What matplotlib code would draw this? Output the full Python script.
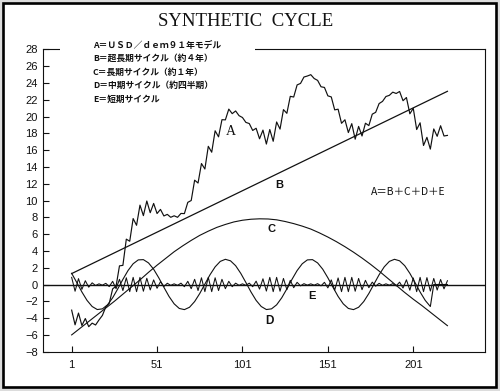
import numpy as np
from matplotlib import pyplot as plt
from matplotlib.patches import Rectangle

# time index of each series
x_a = np.arange(1, 222, 2)
x_b = [1, 221]
x_c = np.arange(1, 222, 5)
x_d = list(range(1, 212, 3)) + [213, 221]
x_e = np.arange(1, 222, 2)

# A = USD/dem model
a_vals = [-3.05, -4.8, -3.4, -4.88, -4.05, -5.02, -4.6, -4.82, -4.22, -3.68,
          -2.66, -2.25, -0.52, -0.2, 2.22, 2.28, 5.4, 5.15, 7.85, 7.05,
          9.45, 8.2, 9.94, 8.55, 9.65, 8.45, 8.94, 8.16, 8.35, 8.0,
          8.18, 8.0, 8.46, 8.44, 9.78, 10.0, 12.42, 12.08, 14.4, 13.75,
          16.45, 15.75, 18.3, 17.58, 19.62, 19.6, 20.88, 20.34, 20.66, 20.1,
          19.88, 19.3, 19.16, 18.34, 18.6, 17.35, 18.38, 16.72, 18.45, 17.05,
          19.35, 18.5, 20.82, 20.38, 22.4, 22.32, 23.76, 23.94, 24.7, 24.82,
          24.98, 24.52, 24.3, 23.54, 23.46, 22.46, 22.33, 20.79, 20.87, 19.19,
          19.61, 18.09, 19.15, 17.3, 18.82, 17.68, 19.2, 18.92, 20.28, 20.5,
          21.54, 21.8, 22.38, 22.52, 22.9, 22.74, 22.98, 21.88, 22.26, 20.32,
          20.98, 18.45, 19.25, 16.55, 17.52, 16.12, 18.52, 17.64, 18.9, 17.68,
          17.75]

# B = very long trend
b_vals = [1.3, 23.0]

# C = long cycle
c_vals = [-6.0, -5.2, -4.4, -3.6, -2.8, -2.0, -1.15, -0.3, 0.55, 1.45,
          2.3, 3.1, 3.9, 4.6, 5.25, 5.85, 6.35, 6.8, 7.15, 7.45,
          7.65, 7.77, 7.82, 7.8, 7.7, 7.5, 7.25, 6.95, 6.6, 6.15,
          5.65, 5.1, 4.5, 3.85, 3.15, 2.4, 1.6, 0.75, -0.1, -0.95,
          -1.75, -2.5, -3.3, -4.1, -4.9]

# D = medium cycle (quarter)
d_vals = [1.33, 0.24, -0.89, -1.89, -2.62, -2.98, -2.9, -2.42, -1.58, -0.52,
          0.61, 1.66, 2.47, 2.93, 2.96, 2.57, 1.82, 0.8, -0.33, -1.42,
          -2.3, -2.85, -2.99, -2.71, -2.03, -1.07, 0.05, 1.16, 2.1, 2.75,
          3.0, 2.82, 2.24,
          1.33, 0.24, -0.89, -1.89, -2.62, -2.98, -2.9, -2.42, -1.58, -0.52,
          0.61, 1.66, 2.47, 2.93, 2.96, 2.57, 1.82, 0.8, -0.33, -1.42,
          -2.3, -2.85, -2.99, -2.71, -2.03, -1.07, 0.05, 1.16, 2.1, 2.75,
          3.0, 2.82, 2.24,
          1.33, 0.24, -0.89, -1.89, -2.62, 0.0, 0.0]

# E = short cycle
e_vals = [0.85, -0.8, 0.7, -0.58, 0.45, -0.32, 0.2, -0.12, 0.08, -0.08,
          0.14, -0.25, 0.38, -0.5, 0.62, -0.72, 0.8, -0.85, 0.85, -0.85,
          0.85, -0.8, 0.74, -0.65, 0.55, -0.45, 0.34, -0.24, 0.15, -0.1,
          0.08, -0.1, 0.16, -0.26, 0.38, -0.5, 0.62, -0.72, 0.8, -0.85,
          0.85, -0.85, 0.8, -0.72, 0.62, -0.5, 0.38, -0.26, 0.16, -0.1,
          0.08, -0.1, 0.16, -0.26, 0.4, -0.55, 0.68, -0.78, 0.85, -0.85,
          0.85, -0.8, 0.72, -0.62, 0.5, -0.38, 0.26, -0.16, 0.1, -0.08,
          0.08, -0.08, 0.1, -0.16, 0.26, -0.4, 0.55, -0.68, 0.78, -0.85,
          0.85, -0.85, 0.85, -0.8, 0.72, -0.62, 0.5, -0.38, 0.28, -0.2,
          0.14, -0.1, 0.08, -0.08, 0.1, -0.16, 0.28, -0.42, 0.56, -0.68,
          0.78, -0.85, 0.85, -0.85, 0.82, -0.78, 0.72, -0.66, 0.6, -0.52,
          0.45]

x_ticks = [1, 51, 101, 151, 201]
x_ticklabels = ['1', '51', '101', '151', '201']
y_ticks = list(range(-8, 29, 2))

legend_lines = ['A＝ＵＳＤ／ｄｅｍ９１年モデル',
                'B＝超長期サイクル（約４年）',
                'C＝長期サイクル（約１年）',
                'D＝中期サイクル（約四半期）',
                'E＝短期サイクル']

jp = ['Noto Sans CJK JP', 'DejaVu Sans']
ink = '#111111'

fig = plt.figure(figsize=(5.0, 3.91), dpi=100, facecolor='#dcdcdc')
# white sheet with black frame
fig.patches.append(Rectangle((0.0054, 0.0115), 0.9856, 0.9815, transform=fig.transFigure,
                             facecolor='white', edgecolor='black', linewidth=1.9, zorder=-1))

ax = fig.add_axes([0.0866, 0.1005, 0.8834, 0.7734])
ax.set_facecolor('none')

ax.axhline(0, color=ink, lw=1.0)
ax.plot(x_e, e_vals, color=ink, lw=0.75)
ax.plot(x_d, d_vals, color=ink, lw=0.8)
ax.plot(x_c, c_vals, color=ink, lw=0.8)
ax.plot(x_b, b_vals, color=ink, lw=0.9)
ax.plot(x_a, a_vals, color=ink, lw=0.85)

ax.set_xlim(-15.6, 243)
ax.set_ylim(-8, 28)
ax.set_xticks(x_ticks)
ax.set_xticklabels(x_ticklabels)
ax.set_yticks(y_ticks)
ax.tick_params(direction='in', length=4.5, width=0.8, labelsize=8, colors=ink)
ax.tick_params(axis='x', pad=6)
ax.tick_params(axis='y', pad=4)
for lab in ax.get_xticklabels() + ax.get_yticklabels():
    lab.set_fontfamily('Liberation Sans')
for s in ax.spines.values():
    s.set_linewidth(0.8)
    s.set_color(ink)

# legend block hides part of the top frame line
ax.add_patch(Rectangle((0.038, 0.985), 0.441, 0.03, transform=ax.transAxes,
                       facecolor='white', edgecolor='none', clip_on=False, zorder=3))
for i, line in enumerate(legend_lines):
    ax.text(0.1125, 1.014 - i * 0.0445, line, transform=ax.transAxes, family=jp,
            fontsize=6.3, fontweight='bold', va='center', ha='left', color=ink, zorder=4)

# curve labels
ax.text(94, 18.2, 'A', family='Liberation Serif', fontsize=10, ha='center', va='center', color=ink)
ax.text(122.5, 11.8, 'B', family='Liberation Sans', fontsize=8, fontweight='bold', ha='center', va='center', color=ink)
ax.text(118, 6.6, 'C', family='Liberation Sans', fontsize=8, fontweight='bold', ha='center', va='center', color=ink)
ax.text(117, -4.4, 'D', family='Liberation Sans', fontsize=8.5, fontweight='bold', ha='center', va='center', color=ink)
ax.text(141.5, -1.4, 'E', family='Liberation Sans', fontsize=8, fontweight='bold', ha='center', va='center', color=ink)
ax.text(198, 11.0, 'A＝B＋C＋D＋E', family=jp, fontsize=7.5, ha='center', va='center', color=ink)

fig.text(0.492, 0.944, 'SYNTHETIC  CYCLE', family='Liberation Serif', fontsize=13.5,
         ha='center', va='center', color=ink)

fig.savefig('out.png', dpi=100, facecolor=fig.get_facecolor())
